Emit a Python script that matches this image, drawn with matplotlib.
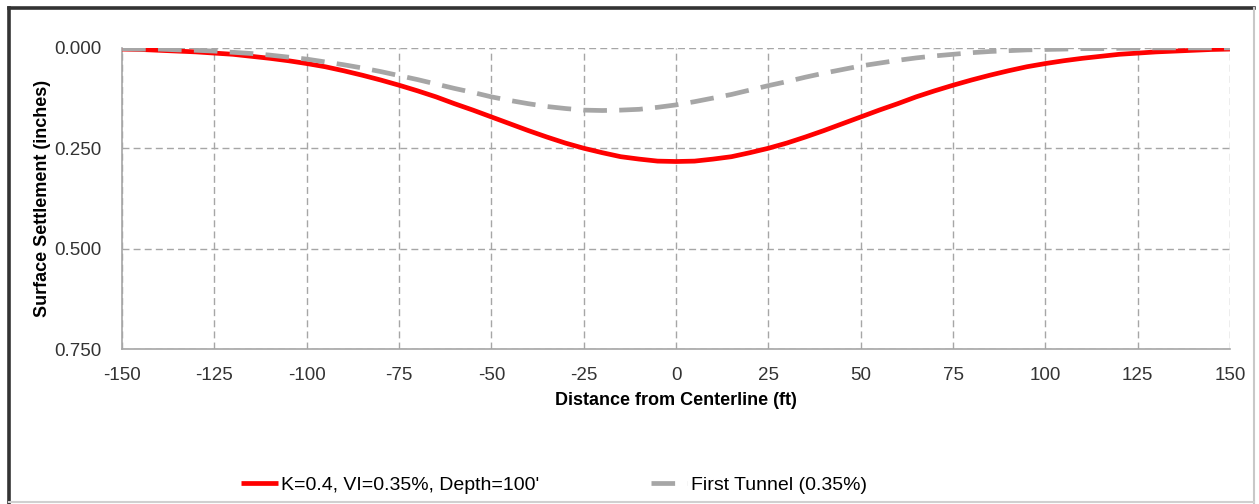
import matplotlib
matplotlib.use('Agg')
import matplotlib.pyplot as plt
from matplotlib.lines import Line2D

# distância do eixo (ft), passo de 5 ft
distancia = list(range(-150, 155, 5))

# recalque K=0.4, VI=0.35%, profundidade 100' (polegadas)
recalque_k04 = [
    0.003, 0.004, 0.006, 0.008, 0.010, 0.013, 0.016, 0.021, 0.026, 0.032,
    0.039, 0.047, 0.057, 0.068, 0.080, 0.093, 0.107, 0.122, 0.139, 0.155,
    0.172, 0.189, 0.206, 0.222, 0.237, 0.250, 0.261, 0.271, 0.277, 0.282,
    0.283,
    0.282, 0.277, 0.271, 0.261, 0.250, 0.237, 0.222, 0.206, 0.189, 0.172,
    0.155, 0.139, 0.122, 0.107, 0.093, 0.080, 0.068, 0.057, 0.047, 0.039,
    0.032, 0.026, 0.021, 0.016, 0.013, 0.010, 0.008, 0.006, 0.004, 0.003,
]

# primeiro túnel (0.35%)
recalque_primeiro = [
    0.002, 0.003, 0.003, 0.005, 0.006, 0.008, 0.011, 0.014, 0.018, 0.023,
    0.028, 0.035, 0.042, 0.050, 0.059, 0.069, 0.079, 0.090, 0.101, 0.111,
    0.122, 0.131, 0.139, 0.146, 0.151, 0.155, 0.156, 0.155, 0.153, 0.148,
    0.142,
    0.134, 0.125, 0.116, 0.105, 0.094, 0.084, 0.073, 0.063, 0.054, 0.045,
    0.038, 0.031, 0.025, 0.020, 0.016, 0.012, 0.009, 0.007, 0.005, 0.004,
    0.003, 0.002, 0.002, 0.001, 0.001, 0.000, 0.000, 0.000, 0.000, 0.000,
]

xticks = list(range(-150, 175, 25))
yticks = [0.0, 0.25, 0.5, 0.75]

plt.rcParams['font.family'] = ['Liberation Sans', 'DejaVu Sans']
plt.rcParams['axes.unicode_minus'] = False

fig = plt.figure(figsize=(12.59, 5.04), dpi=100)
ax = fig.add_axes([0.097, 0.3075, 0.880, 0.5975])

ax.plot(distancia, recalque_k04, color='#ff0000', lw=3.4, solid_capstyle='butt',
        label="K=0.4, VI=0.35%, Depth=100'", zorder=3)
ax.plot(distancia, recalque_primeiro, color='#a6a6a6', lw=3.4, ls=(0, (5, 2.6)),
        label='First Tunnel (0.35%)', zorder=4)

ax.set_xlim(-150, 150)
ax.set_ylim(0.75, 0.0)
ax.set_xticks(xticks)
ax.set_yticks(yticks)
ax.set_yticklabels([f'{v:.3f}' for v in yticks])
ax.tick_params(length=0, labelsize=13.5, colors='#333333')
ax.tick_params(axis='x', pad=13)
ax.tick_params(axis='y', pad=15)

ax.grid(True, color='#a6a6a6', ls=(0, (5, 3)), lw=1.0)
for s in ['top', 'right']:
    ax.spines[s].set_visible(False)
for s in ['left', 'bottom']:
    ax.spines[s].set_color('#a6a6a6')
    ax.spines[s].set_linewidth(1.2)

ax.set_xlabel('Distance from Centerline (ft)', fontsize=13, fontweight='bold', labelpad=6)
ax.set_ylabel('Surface Settlement (inches)', fontsize=13, fontweight='bold')
ax.yaxis.set_label_coords(-0.064, 0.5)

fig.legend(loc='center', bbox_to_anchor=(0.44, 0.038), ncol=2, frameon=False,
           fontsize=14, handlelength=1.9, handletextpad=0.2, columnspacing=5.7)

# moldura externa: topo e esquerda escuros, direita e base claras
fig.add_artist(Line2D([0.007, 0.996], [0.984, 0.984], transform=fig.transFigure,
                      color='#333333', lw=2.6))
fig.add_artist(Line2D([0.007, 0.007], [0.0, 0.984], transform=fig.transFigure,
                      color='#333333', lw=2.6))
fig.add_artist(Line2D([0.996, 0.996], [0.0, 0.984], transform=fig.transFigure,
                      color='#c8c8c8', lw=1.5))
fig.add_artist(Line2D([0.007, 0.996], [0.003, 0.003], transform=fig.transFigure,
                      color='#d0d0d0', lw=1.5))

plt.savefig('out.png', dpi=100)
